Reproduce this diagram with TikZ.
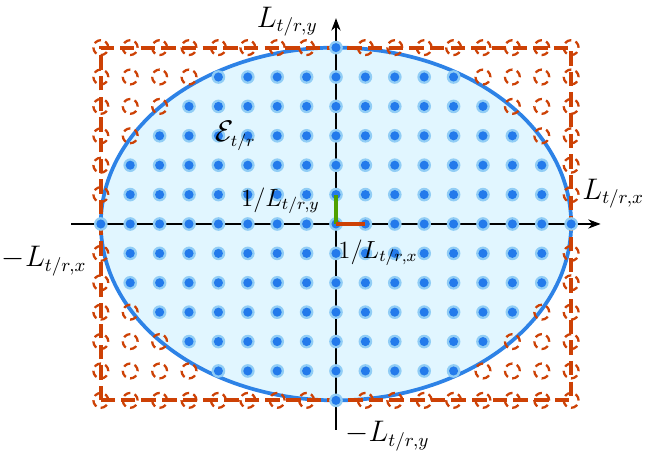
\documentclass[tikz,border=0pt]{standalone}
\usepackage{amsmath}
\usepackage{amssymb}
\usetikzlibrary{arrows.meta}

\DeclareMathSizes{15}{15}{9.5}{7}
\DeclareMathSizes{14}{14}{8.5}{6.5}
\DeclareMathSizes{13}{13}{8}{6}

\definecolor{ellblue}{RGB}{45,130,230}
\definecolor{ellfill}{RGB}{225,246,255}
\definecolor{dotblue}{RGB}{35,122,235}
\definecolor{haloblue}{RGB}{145,205,245}
\definecolor{boxred}{RGB}{205,65,5}
\definecolor{vecgreen}{RGB}{80,160,0}

\begin{document}
\begin{tikzpicture}[
						x=0.5cm, y=0.5cm,
						biglabel/.style={inner sep=0pt, font=\fontsize{15}{18}\selectfont},
						smalllabel/.style={inner sep=0pt, font=\fontsize{13}{16}\selectfont},
						setlabel/.style={inner sep=0pt, font=\fontsize{14}{17}\selectfont},
						axisline/.style={line width=0.5pt, -{Stealth[length=6pt, width=4.5pt]}},
						outpt/.style={boxred, line width=1.1pt, dash pattern=on 3.4pt off 2.2pt}
						]
						
						% Frame
						\useasboundingbox (-11.43,-7.82) rectangle (10.58,7.62);
						
						% Ellipse (fill)
						\fill[ellfill] (0,0) ellipse (8 and 6);
						
						% Axes
						\coordinate (xa) at (-9,0);
						\coordinate (xb) at (9,0);
						\coordinate (ya) at (0,-7);
						\coordinate (yb) at (0,7);
						\draw[axisline] (xa) -- (xb);
						\draw[axisline] (ya) -- (yb);
						
						% Ellipse (outline)
						\draw[ellblue, line width=1.8pt] (0,0) ellipse (8 and 6);
						
						% Box
						\draw[boxred, line width=2pt, dash pattern=on 7pt off 3pt] (-8,-6) rectangle (8,6);
						
						% Lattice points
						\foreach \i in {-8,...,8}{
							\foreach \j in {-6,...,6}{
								\pgfmathsetmacro\lev{\i*\i/64+\j*\j/36}
								\ifdim\lev pt<1.0001pt
									\fill[haloblue] (\i,\j) circle (3.3pt);
									\fill[dotblue] (\i,\j) circle (2.2pt);
								\else
									\draw[outpt] (\i,\j) circle (3.6pt);
								\fi
							}
						}
						
						% Unit steps
						\coordinate (o) at (0,0);
						\coordinate (ex) at (1,0);
						\coordinate (ey) at (0,1);
						\draw[vecgreen, line width=1.6pt] (o) -- (ey);
						\draw[boxred, line width=1.6pt] (o) -- (ex);
						
						% Labels
						\node[biglabel, anchor=base east] (lyp) at (-0.61,6.70) {$L_{t/r,y}$};
						\node[biglabel, anchor=base west] (lxp) at (8.37,0.85) {$L_{t/r,x}$};
						\node[biglabel, anchor=base east] (lxm) at (-8.47,-1.46) {$-L_{t/r,x}$};
						\node[biglabel, anchor=base west] (lym) at (0.31,-7.41) {$-L_{t/r,y}$};
						\node[smalllabel, anchor=base east] (dy) at (-0.54,0.61) {$1/L_{t/r,y}$};
						\node[smalllabel, anchor=base west] (dx) at (0.07,-1.16) {$1/L_{t/r,x}$};
						\node[setlabel, anchor=base west] (ell) at (-4.12,2.79) {$\mathcal{E}_{t/r}$};
						
					\end{tikzpicture}
\end{document}
